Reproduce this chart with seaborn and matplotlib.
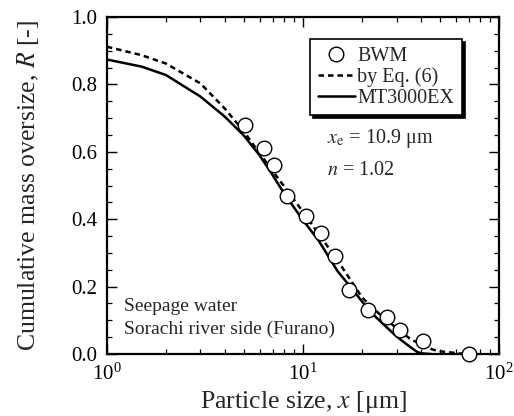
import numpy as np
import pandas as pd
import matplotlib
matplotlib.use("Agg")
import matplotlib.pyplot as plt
from matplotlib.ticker import MultipleLocator, LogLocator, NullFormatter, FormatStrFormatter
from matplotlib.lines import Line2D
import seaborn as sns

# Measured points (BWM)
bwm_x = [5.06, 6.35, 7.14, 8.26, 10.4, 12.4, 14.6, 17.2, 21.4, 26.7, 31.2, 40.8, 70.3]
bwm_R = [0.68, 0.61, 0.56, 0.47, 0.41, 0.36, 0.29, 0.19, 0.13, 0.11, 0.07, 0.04, 0.00]

# Curve by Eq. (6)
eq_x = [1.0, 1.5, 2.0, 3.0, 4.0, 5.0, 6.0, 7.0, 8.0, 10.0, 12.0, 15.0, 20.0, 25.0,
        30.0, 35.0, 40.0, 46.0, 50.0, 58.0, 65.0, 70.0]
eq_R = [0.912, 0.887, 0.862, 0.803, 0.728, 0.660, 0.596, 0.543, 0.498, 0.422, 0.357,
        0.278, 0.168, 0.114, 0.077, 0.046, 0.028, 0.013, 0.008, 0.004, 0.001, 0.000]

# MT3000EX curve
mt_x = [1.0, 1.5, 2.0, 3.0, 4.0, 5.0, 6.0, 7.0, 8.0, 10.0, 12.0, 15.0, 17.4, 20.0,
        22.0, 25.0, 30.0, 35.0, 38.0, 40.0, 45.0]
mt_R = [0.874, 0.853, 0.828, 0.764, 0.704, 0.648, 0.590, 0.531, 0.477, 0.397, 0.337,
        0.246, 0.200, 0.156, 0.126, 0.095, 0.052, 0.022, 0.007, 0.002, 0.000]

sns.set_style("ticks")
plt.rcParams["font.family"] = ["Liberation Serif", "DejaVu Serif"]
plt.rcParams["mathtext.fontset"] = "stix"

fig = plt.figure(figsize=(5.14, 4.16), dpi=100)
ax = fig.add_axes([0.208, 0.149, 0.763, 0.810])

eq_df = pd.DataFrame({"x": eq_x, "R": eq_R})
mt_df = pd.DataFrame({"x": mt_x, "R": mt_R})
bwm_df = pd.DataFrame({"x": bwm_x, "R": bwm_R})

sns.lineplot(data=eq_df, x="x", y="R", ax=ax, color="black", linewidth=1.8,
             linestyle=(0, (2.2, 1.6)), legend=False, zorder=2)
sns.lineplot(data=mt_df, x="x", y="R", ax=ax, color="black", linewidth=1.8,
             legend=False, zorder=2)
sns.scatterplot(data=bwm_df, x="x", y="R", ax=ax, marker="o", s=110,
                facecolor="white", edgecolor="black", linewidth=1.0,
                legend=False, zorder=3, clip_on=False)

ax.set_xscale("log")
ax.set_xlim(1, 100)
ax.set_ylim(0, 1.0)
ax.yaxis.set_major_locator(MultipleLocator(0.2))
ax.yaxis.set_minor_locator(MultipleLocator(0.05))
ax.yaxis.set_major_formatter(FormatStrFormatter("%.1f"))
ax.xaxis.set_major_locator(LogLocator(base=10))
ax.xaxis.set_minor_locator(LogLocator(base=10, subs=np.arange(2, 10)))
ax.xaxis.set_minor_formatter(NullFormatter())

ax.tick_params(which="both", direction="in", top=True, right=True, colors="black")
ax.tick_params(which="major", length=7, width=1.0, labelsize=15, pad=7)
ax.tick_params(which="minor", length=3.5, width=0.9)
for sp in ax.spines.values():
    sp.set_linewidth(1.6)
    sp.set_color("black")

ax.set_xlabel("Particle size, $x$ [μm]", fontsize=18.5, labelpad=3)
ax.set_ylabel("Cumulative mass oversize, $R$ [-]", fontsize=18.5, labelpad=22)

handles = [
    Line2D([], [], marker="o", linestyle="none", markersize=10.5,
           markerfacecolor="white", markeredgecolor="black", markeredgewidth=1.0),
    Line2D([], [], color="black", linewidth=1.8, linestyle=(0, (2.2, 1.6))),
    Line2D([], [], color="black", linewidth=1.8),
]
leg = ax.legend(handles, ["BWM", "by Eq. (6)", "MT3000EX"],
                loc="upper left", bbox_to_anchor=(0.518, 0.935),
                fontsize=14.5, frameon=True, fancybox=False, framealpha=1,
                edgecolor="black", handlelength=1.85, handletextpad=0.12,
                labelspacing=0.08, borderpad=0.38, borderaxespad=0.0,
                shadow={"color": "black", "alpha": 1.0})
leg.get_frame().set_linewidth(1.2)

ax.text(0.56, 0.64, "$x_\\mathrm{e}$ = 10.9 μm", transform=ax.transAxes,
        fontsize=14.5, va="center", ha="left")
ax.text(0.56, 0.545, "$n$ = 1.02", transform=ax.transAxes,
        fontsize=14.5, va="center", ha="left")
ax.text(0.044, 0.142, "Seepage water", transform=ax.transAxes,
        fontsize=14, va="center", ha="left")
ax.text(0.044, 0.074, "Sorachi river side (Furano)", transform=ax.transAxes,
        fontsize=14, va="center", ha="left")

fig.savefig("out.png", dpi=100)
